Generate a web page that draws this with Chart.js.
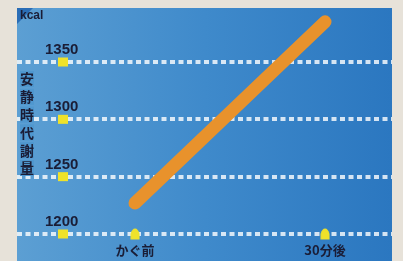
<!DOCTYPE html>
<html><head><meta charset="utf-8">
<script src="https://cdn.jsdelivr.net/npm/chart.js@4.4.1/dist/chart.umd.min.js"></script>
<style>html,body{margin:0;padding:0;background:#e7e2d9;}#wrap{width:403px;height:261px;position:relative;}</style>
</head><body><div id="wrap"><canvas id="c" width="403" height="261"></canvas></div>
<script>
const categories = ['かぐ前', '30分後'];
const values = [1227, 1385];
const yTicks = [1200, 1250, 1300, 1350];
const unitLabel = 'kcal';
const axisTitle = '安静時代謝量';

const navy = '#1a1d36';
const yellow = '#efe22a';

// dome-shaped marker
const dome = document.createElement('canvas');
dome.width = 10; dome.height = 12;
(function () {
  const c = dome.getContext('2d');
  c.fillStyle = yellow;
  c.beginPath();
  c.moveTo(0.5, 11.5);
  c.lineTo(0.5, 6);
  c.quadraticCurveTo(2, 0.5, 5, 0.5);
  c.quadraticCurveTo(8, 0.5, 9.5, 6);
  c.lineTo(9.5, 11.5);
  c.closePath();
  c.fill();
})();

const panelPlugin = {
  id: 'panel',
  beforeDraw(chart) {
    const ctx = chart.ctx, a = chart.chartArea;
    ctx.save();
    const g = ctx.createLinearGradient(a.left, 0, a.right, 0);
    g.addColorStop(0, '#5c9fd3');
    g.addColorStop(0.5, '#3f8acb');
    g.addColorStop(1, '#2b77c0');
    ctx.fillStyle = g;
    ctx.fillRect(a.left, a.top, a.right - a.left, chart.height - a.top);
    ctx.fillStyle = '#2a6db6';
    ctx.beginPath();
    ctx.moveTo(a.left, a.top); ctx.lineTo(a.left + 16, a.top); ctx.lineTo(a.left, a.top + 16); ctx.closePath();
    ctx.fill();
    ctx.restore();
  },
  afterDatasetsDraw(chart) {
    const ctx = chart.ctx, a = chart.chartArea, y = chart.scales.y;
    ctx.save();
    ctx.fillStyle = yellow;
    yTicks.forEach(v => {
      const py = y.getPixelForValue(v);
      ctx.fillRect(a.left + 41, py - 4.5, 10, 9);
    });
    ctx.fillStyle = navy;
    ctx.font = 'bold 12px "Liberation Sans", Arial, sans-serif';
    ctx.textAlign = 'left'; ctx.textBaseline = 'middle';
    ctx.fillText(unitLabel, a.left + 3, a.top + 8);
    ctx.font = 'bold 14px "Noto Sans CJK JP", sans-serif';
    ctx.textAlign = 'center';
    const chars = Array.from(axisTitle);
    chars.forEach((ch, i) => {
      ctx.fillStyle = '#4f97cf';
      ctx.fillRect(20, 79 + i * 17.8 - 8, 14, 16);
      ctx.fillStyle = navy;
      ctx.fillText(ch, 27, 79 + i * 17.8);
    });
    ctx.restore();
  }
};

new Chart(document.getElementById('c'), {
  type: 'line',
  data: {
    datasets: [
      {
        data: values.map((v, i) => ({x: i, y: v})),
        borderColor: '#e8922c',
        borderWidth: 13,
        borderCapStyle: 'round',
        pointRadius: 0,
        tension: 0
      },
      {
        data: categories.map((c, i) => ({x: i, y: yTicks[0]})),
        showLine: false,
        pointStyle: dome,
        pointRadius: 6
      }
    ]
  },
  options: {
    responsive: false,
    animation: false,
    devicePixelRatio: 1,
    layout: {padding: {left: 17, right: 11, top: 8, bottom: 0}},
    plugins: {legend: {display: false}, tooltip: {enabled: false}},
    scales: {
      x: {
        type: 'linear',
        min: -0.6211,
        max: 1.3526,
        afterBuildTicks: s => { s.ticks = categories.map((c, i) => ({value: i})); },
        afterFit: s => { s.height = 19; s.paddingLeft = 0; s.paddingRight = 0; },
        grid: {display: false, drawTicks: false},
        border: {display: false},
        ticks: {
          callback: v => categories[v],
          color: navy,
          padding: 1,
          maxRotation: 0,
          font: {family: '"Noto Sans CJK JP", sans-serif', weight: 'bold', size: 13, lineHeight: 1.1}
        }
      },
      y: {
        min: 1193.02,
        max: 1397.09,
        afterBuildTicks: s => { s.ticks = yTicks.map(v => ({value: v})); },
        afterFit: s => { s.width = 0; s.paddingTop = 0; s.paddingBottom = 0; },
        grid: {color: 'rgba(255,255,255,0.8)', lineWidth: 4, drawTicks: false},
        border: {display: false, dash: [5, 3.5]},
        ticks: {
          mirror: true,
          padding: 28,
          labelOffset: -12,
          color: navy,
          callback: v => String(v),
          font: {family: '"Liberation Sans", Arial, sans-serif', weight: 'bold', size: 15}
        }
      }
    }
  },
  plugins: [panelPlugin]
});
</script></body></html>
